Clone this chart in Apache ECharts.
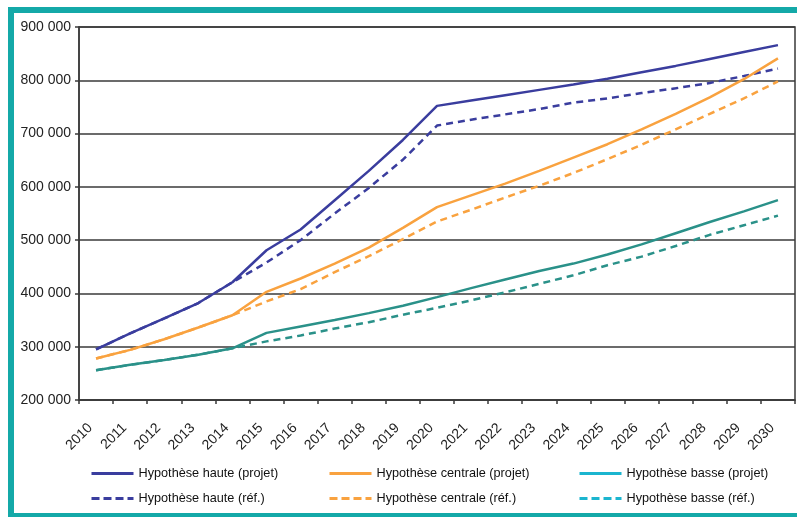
<!DOCTYPE html>
<html>
<head>
<meta charset="utf-8">
<script src="https://cdn.jsdelivr.net/npm/echarts@6/dist/echarts.min.js"></script>
<style>
html,body{margin:0;padding:0;background:#fff;}
#c{width:797px;height:517px;}
</style>
</head>
<body>
<div id="c"></div>
<script>
const years = ['2010','2011','2012','2013','2014','2015','2016','2017','2018','2019','2020','2021','2022','2023','2024','2025','2026','2027','2028','2029','2030'];
const hauteProjet = [295000,325000,353000,382000,421000,481000,520000,575000,630000,688000,752000,762000,772000,782000,792000,803000,815000,827000,840000,853000,866000];
const hauteRef = [295000,325000,353000,382000,421000,458000,500000,550000,598000,651000,715000,726000,736000,746000,758000,766000,776000,785000,795000,808000,822000];
const centraleProjet = [278000,294000,314000,336000,359000,403000,428000,456000,486000,523000,562000,584000,606000,630000,655000,680000,708000,737000,768000,802000,841000];
const centraleRef = [278000,294000,314000,336000,359000,385000,408000,440000,470000,502000,535000,557000,580000,602000,626000,652000,679000,708000,737000,766000,798000];
const basseProjet = [256000,266000,275000,285000,297000,326000,338000,350000,363000,377000,393000,410000,426000,442000,456000,473000,492000,513000,534000,554000,575000];
const basseRef = [256000,266000,275000,285000,297000,310000,321000,334000,346000,360000,373000,387000,402000,418000,434000,453000,469000,489000,510000,528000,546000];
const seriesNames = ['Hypothèse haute (projet)','Hypothèse haute (réf.)','Hypothèse centrale (projet)','Hypothèse centrale (réf.)','Hypothèse basse (projet)','Hypothèse basse (réf.)'];

const BLUE = '#3a3d9e', ORANGE = '#f9a23f', TEAL = '#2a9189', CYAN = '#1bb5cf', FRAME = '#14a9a8';
const DASH = [7,5];
const font = 'Liberation Sans, Arial, sans-serif';

function mk(name, data, color, dashed){
  return {name, type:'line', data, symbol:'none', showSymbol:false, smooth:false,
    lineStyle:{color, width:2.5, type: dashed ? DASH : 'solid'}, itemStyle:{color}, z:3};
}
function legendItem(name, color, dashed){
  return {name, itemStyle:{color:'rgba(0,0,0,0)', borderWidth:0, opacity:0},
    lineStyle:{color, width:3, type: dashed ? [8,4] : 'solid'}};
}
const legendBase = {orient:'vertical', top:467, padding:0, itemWidth:42, itemHeight:14, itemGap:12,
  textStyle:{fontFamily:font, fontSize:12.7, color:'#111'}, selectedMode:false};

const chart = echarts.init(document.getElementById('c'), null, {renderer:'canvas'});
chart.setOption({
  backgroundColor:'#fff',
  animation:false,
  grid:{left:79, top:27, right:2, bottom:117, show:true, borderColor:'#3a3a3a', borderWidth:1.5, backgroundColor:'transparent'},
  xAxis:{type:'category', data:years, boundaryGap:true,
    axisLine:{lineStyle:{color:'#3a3a3a', width:1.5}},
    axisTick:{show:true, length:4, lineStyle:{color:'#3a3a3a', width:1.5}},
    axisLabel:{rotate:45, margin:20, padding:[0,8,0,0], fontFamily:font, fontSize:14, color:'#222', interval:0}},
  yAxis:{type:'value', min:200000, max:900000, interval:100000,
    axisLine:{show:true, lineStyle:{color:'#3a3a3a', width:1.5}},
    axisTick:{show:true, length:4, lineStyle:{color:'#3a3a3a', width:1.5}},
    axisLabel:{margin:8, fontFamily:font, fontSize:14, color:'#222',
      formatter: v => String(v).replace(/\B(?=(\d{3})+(?!\d))/g,' ')},
    splitLine:{show:true, lineStyle:{color:'#3a3a3a', width:1.5}}},
  legend:[
    Object.assign({}, legendBase, {left:90, data:[legendItem(seriesNames[0],BLUE,false), legendItem(seriesNames[1],BLUE,true)]}),
    Object.assign({}, legendBase, {left:328, data:[legendItem(seriesNames[2],ORANGE,false), legendItem(seriesNames[3],ORANGE,true)]}),
    Object.assign({}, legendBase, {left:578, data:[legendItem(seriesNames[4],CYAN,false), legendItem(seriesNames[5],CYAN,true)]})
  ],
  series:[
    mk(seriesNames[0], hauteProjet, BLUE, false),
    mk(seriesNames[1], hauteRef, BLUE, true),
    mk(seriesNames[2], centraleProjet, ORANGE, false),
    mk(seriesNames[3], centraleRef, ORANGE, true),
    mk(seriesNames[4], basseProjet, TEAL, false),
    mk(seriesNames[5], basseRef, TEAL, true)
  ],
  graphic:[
    {type:'rect', left:8, top:7, shape:{width:789, height:6}, style:{fill:FRAME}, silent:true},
    {type:'rect', left:8, top:7, shape:{width:6, height:510}, style:{fill:FRAME}, silent:true},
    {type:'rect', left:8, top:513, shape:{width:789, height:4}, style:{fill:FRAME}, silent:true}
  ]
});
</script>
</body>
</html>
